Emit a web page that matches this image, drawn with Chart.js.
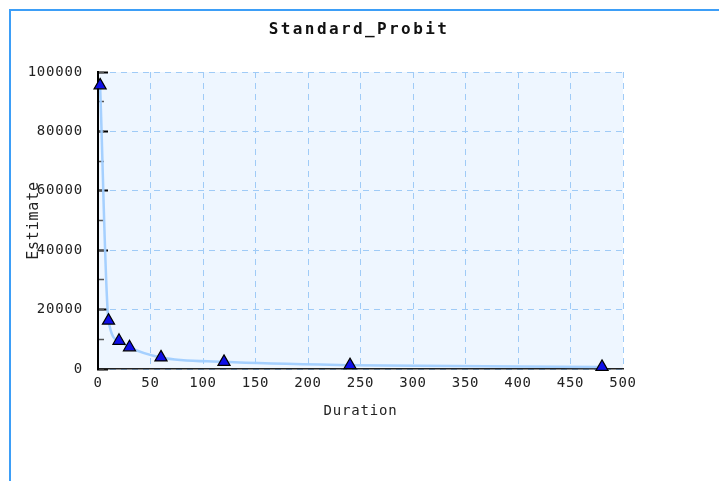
<!DOCTYPE html>
<html>
<head>
<meta charset="utf-8">
<script src="https://cdn.jsdelivr.net/npm/chart.js@4/dist/chart.umd.min.js"></script>
<style>
  html, body { margin: 0; padding: 0; background: #fff; }
  #wrap { position: relative; width: 719px; height: 481px; overflow: hidden; }
  #frame { position: absolute; left: 9px; top: 9px; width: 720px; height: 480px;
           border-top: 2px solid #3d9ef7; border-left: 2px solid #3d9ef7; }
  canvas { position: absolute; left: 0; top: 0; }
</style>
</head>
<body>
<div id="wrap">
  <div id="frame"></div>
  <canvas id="chart" width="719" height="481"></canvas>
</div>
<script>
// Estimate by duration
const durations = [2, 10, 20, 30, 60, 120, 240, 480];
const estimates = [95500, 16300, 9500, 7300, 3900, 2400, 1300, 700];

// Axis ticks
const xTickValues = [0, 50, 100, 150, 200, 250, 300, 350, 400, 450, 500];
const yTickValues = [0, 20000, 40000, 60000, 80000, 100000];
const yMinorTickValues = [0, 10000, 20000, 30000, 40000, 50000, 60000, 70000, 80000, 90000, 100000];

const chartTitle = 'Standard_Probit';
const xTitle = 'Duration';
const yTitle = 'Estimate';

const mono = "'DejaVu Sans Mono', 'Liberation Mono', monospace";

// Light blue plot background plus wider letter spacing for all canvas text
const plotBackground = {
  id: 'plotBackground',
  beforeDraw(chart) {
    const { ctx, chartArea: a } = chart;
    ctx.save();
    ctx.fillStyle = '#eef6ff';
    ctx.fillRect(a.left, a.top, a.right - a.left, a.bottom - a.top);
    ctx.restore();
    ctx.letterSpacing = '0.8px';
  }
};

// Bold heading centred above the plot
const heading = {
  id: 'heading',
  afterDraw(chart) {
    const { ctx } = chart;
    ctx.save();
    ctx.letterSpacing = '2.4px';
    ctx.font = "bold 16px " + mono;
    ctx.fillStyle = '#111';
    ctx.textAlign = 'center';
    ctx.textBaseline = 'middle';
    ctx.fillText(chartTitle, 359, 30);
    ctx.restore();
  }
};

new Chart(document.getElementById('chart'), {
  type: 'scatter',
  data: {
    datasets: [{
      data: durations.map((d, i) => ({ x: d, y: estimates[i] })),
      showLine: true,
      cubicInterpolationMode: 'monotone',
      borderColor: 'rgba(160, 206, 255, 0.95)',
      borderWidth: 2.5,
      pointStyle: 'triangle',
      pointRadius: 7,
      pointHoverRadius: 7,
      pointBackgroundColor: '#1010e8',
      pointBorderColor: '#000',
      pointBorderWidth: 1.2,
      clip: false
    }]
  },
  options: {
    responsive: false,
    animation: false,
    devicePixelRatio: 1,
    layout: { padding: { top: 72, right: 96, bottom: 0, left: 0 } },
    plugins: {
      legend: { display: false },
      title: { display: false },
      tooltip: { enabled: false }
    },
    scales: {
      x: {
        type: 'linear',
        min: 0, max: 500,
        afterBuildTicks: s => { s.ticks = xTickValues.map(v => ({ value: v })); },
        afterFit: s => { s.height = 112; },
        border: { display: true, color: '#222', width: 1.5, dash: [6, 5] },
        grid: { color: '#9fcbf7', lineWidth: 1, drawTicks: false, tickBorderDash: [] },
        ticks: {
          padding: 6,
          color: '#222',
          font: { family: mono, size: 14 },
          maxRotation: 0,
          callback: v => String(v)
        },
        title: {
          display: true,
          text: xTitle,
          color: '#222',
          font: { family: mono, size: 14 },
          padding: { top: 0, bottom: 61 }
        }
      },
      y: {
        type: 'linear',
        position: 'left',
        weight: 1,
        min: 0, max: 100000,
        afterBuildTicks: s => { s.ticks = yTickValues.map(v => ({ value: v })); },
        afterFit: s => { s.width = 98; },
        border: { display: true, color: '#000', width: 2, dash: [6, 5] },
        grid: { color: '#9fcbf7', lineWidth: 1, drawTicks: true, tickLength: -10,
                tickColor: '#000', tickWidth: 2, tickBorderDash: [] },
        ticks: {
          padding: 25,
          color: '#222',
          font: { family: mono, size: 14 },
          callback: v => String(v)
        },
        title: {
          display: true,
          text: yTitle,
          color: '#222',
          font: { family: mono, size: 15 },
          padding: { top: 25, bottom: 0 }
        }
      },
      yMinor: {
        type: 'linear',
        position: 'left',
        weight: 0,
        min: 0, max: 100000,
        afterBuildTicks: s => { s.ticks = yMinorTickValues.map(v => ({ value: v })); },
        afterFit: s => { s.width = 0; },
        border: { display: false },
        grid: { drawOnChartArea: false, drawTicks: true, tickLength: -6,
                tickColor: '#555', tickWidth: 1.5, tickBorderDash: [] },
        ticks: { display: false }
      }
    }
  },
  plugins: [plotBackground, heading]
});
</script>
</body>
</html>
